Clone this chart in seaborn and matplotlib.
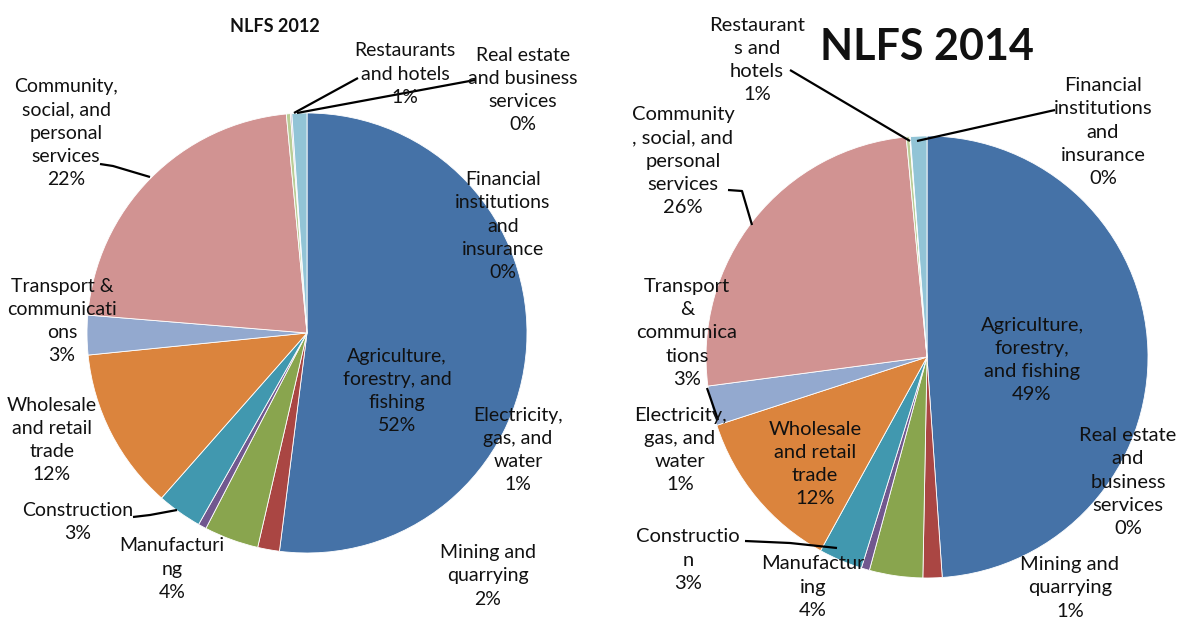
import matplotlib
matplotlib.use("Agg")
import matplotlib.pyplot as plt
import seaborn as sns

# Employment share by sector, NLFS survey rounds (percent)
sectors = [
    "Agriculture, forestry, and fishing",
    "Mining and quarrying",
    "Manufacturing",
    "Electricity, gas, and water",
    "Construction",
    "Wholesale and retail trade",
    "Transport & communications",
    "Community, social, and personal services",
    "Financial institutions and insurance",
    "Real estate and business services",
    "Restaurants and hotels",
]
share_2012 = [52.0, 1.6, 4.0, 0.6, 3.3, 11.9, 2.9, 22.2, 0.3, 0.1, 1.1]
share_2014 = [48.9, 1.4, 3.9, 0.6, 3.2, 12.0, 2.9, 25.6, 0.25, 0.05, 1.2]

# Wrapped label names as shown next to each pie
names_2012 = [
    "Agriculture,\nforestry, and\nfishing",
    "Mining and\nquarrying",
    "Manufacturi\nng",
    "Electricity,\ngas, and\nwater",
    "Construction",
    "Wholesale\nand retail\ntrade",
    "Transport &\ncommunicati\nons",
    "Community,\nsocial, and\npersonal\nservices",
    "Financial\ninstitutions\nand\ninsurance",
    "Real estate\nand business\nservices",
    "Restaurants\nand hotels",
]
names_2014 = [
    "Agriculture,\nforestry,\nand fishing",
    "Mining and\nquarrying",
    "Manufactur\ning",
    "Electricity,\ngas, and\nwater",
    "Constructio\nn",
    "Wholesale\nand retail\ntrade",
    "Transport\n&\ncommunica\ntions",
    "Community\n, social, and\npersonal\nservices",
    "Financial\ninstitutions\nand\ninsurance",
    "Real estate\nand\nbusiness\nservices",
    "Restaurant\ns and\nhotels",
]

palette = sns.color_palette([
    "#4572A7", "#AA4643", "#89A54E", "#71588F", "#4198AF", "#DB843D",
    "#93A9CF", "#D19392", "#B9CD96", "#A99BBD", "#92C4D6",
])

sns.set_theme(style="white")
plt.rcParams["font.family"] = ["Lato", "DejaVu Sans"]

W, H = 1182, 621
fig = plt.figure(figsize=(W / 100, H / 100), dpi=100)
ax = fig.add_axes([0, 0, 1, 1])


def P(x, y):
    """Pixel position (origin top-left) to axes data coordinates."""
    return (x, H - y)


def draw_pie(values, names, center, radius, label_pos, leaders, fsize):
    ax.pie(values, colors=palette, startangle=90, counterclock=False,
           center=P(*center), radius=radius, normalize=True,
           wedgeprops=dict(edgecolor="white", linewidth=0.6))
    total = sum(values)
    for v, name, pos in zip(values, names, label_pos):
        txt = f"{name}\n{round(v / total * 100):d}%"
        ax.text(*P(*pos), txt, ha="center", va="center", fontsize=fsize,
                color="#111111", linespacing=1.45)
    for pts in leaders:
        xs = [p[0] for p in pts]
        ys = [H - p[1] for p in pts]
        ax.plot(xs, ys, color="black", lw=1.6, solid_capstyle="butt")


# NLFS 2012 (left)
pos_2012 = [
    (397, 391),   # agriculture
    (488, 576),   # mining
    (172, 569),   # manufacturing
    (518, 450),   # electricity
    (78, 522),    # construction
    (52, 440),    # wholesale
    (62, 321),    # transport
    (66, 133),    # community
    (503, 226),   # financial
    (523, 90),    # real estate
    (405, 74),    # restaurants
]
lead_2012 = [
    [(100, 164), (113, 166), (150, 177)],
    [(133, 517), (150, 515), (177, 510)],
    [(358, 78), (294, 113)],
    [(475, 80), (297, 113)],
]
draw_pie(share_2012, names_2012, (307, 333), 220, pos_2012, lead_2012, 14)
ax.text(*P(275, 26), "NLFS 2012", ha="center", va="center",
        fontsize=13, fontweight="bold", color="#111111")

# NLFS 2014 (right)
pos_2014 = [
    (1032, 360),  # agriculture
    (1070, 588),  # mining
    (813, 587),   # manufacturing
    (680, 450),   # electricity
    (688, 560),   # construction
    (815, 464),   # wholesale
    (687, 333),   # transport
    (683, 161),   # community
    (1103, 132),  # financial
    (1128, 482),  # real estate
    (757, 60),    # restaurants
]
lead_2014 = [
    [(728, 190), (742, 191), (752, 225)],
    [(707, 388), (718, 420)],
    [(745, 541), (790, 543), (837, 548)],
    [(790, 70), (910, 141)],
    [(1055, 110), (917, 141)],
]
draw_pie(share_2014, names_2014, (927, 357), 221, pos_2014, lead_2014, 14.5)
ax.text(*P(927, 47), "NLFS 2014", ha="center", va="center",
        fontsize=31, fontweight="bold", color="#111111")

ax.set_xlim(0, W)
ax.set_ylim(0, H)
ax.set_aspect("equal")
ax.axis("off")

fig.savefig("out.png", dpi=100, facecolor="white")
